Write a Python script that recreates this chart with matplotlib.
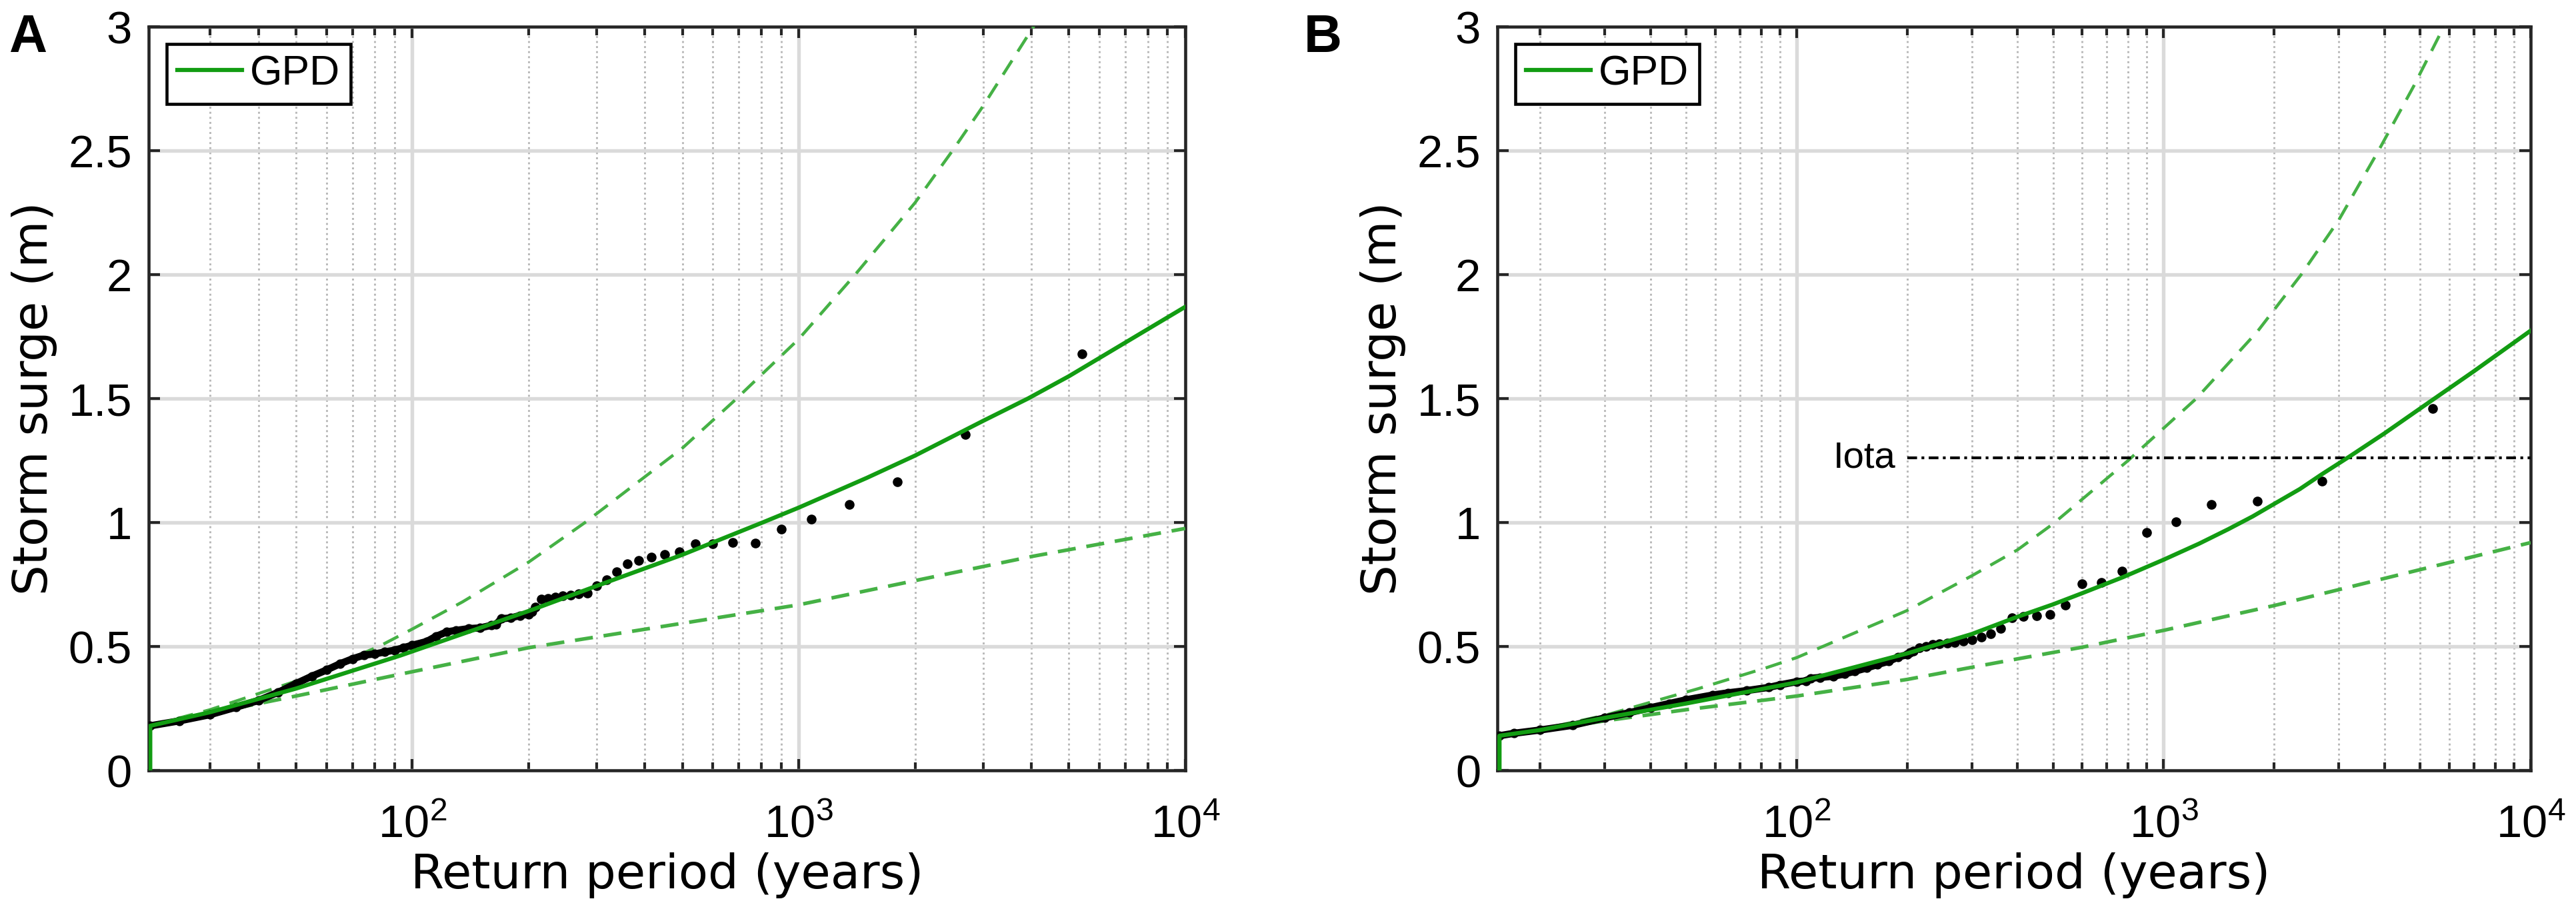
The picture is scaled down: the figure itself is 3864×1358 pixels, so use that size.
#!/usr/bin/env python3
"""
Storm surge return levels: GPD fit with confidence bounds, two sites (A, B).
Output: out.png
"""

import numpy as np
import matplotlib
matplotlib.use('Agg')
import matplotlib.pyplot as plt
import matplotlib.ticker as ticker

plt.rcParams['font.family'] = ['Liberation Sans', 'DejaVu Sans']
plt.rcParams['mathtext.fontset'] = 'custom'
plt.rcParams['mathtext.rm'] = 'Liberation Sans'

# ── data ────────────────────────────────────────────────────────────────────
# Panel A
A_XMIN = 20.8
A_obs_T  = [5400, 2700, 1800, 1350, 1080, 900, 771, 675, 600, 540, 491, 450, 415,
            386, 360, 338, 318, 300, 284, 270, 257, 245, 235, 225, 216, 208]
A_obs_y  = [1.68, 1.355, 1.163, 1.072, 1.013, 0.973, 0.917, 0.920, 0.914, 0.914,
            0.882, 0.871, 0.861, 0.847, 0.834, 0.802, 0.770, 0.745, 0.715, 0.712,
            0.708, 0.705, 0.700, 0.695, 0.690, 0.660]
A_band_T = [204, 200, 190, 180, 170, 165, 160, 150, 140, 130, 123, 115, 109, 100,
            95, 90, 85, 80, 75, 70, 65, 60, 55, 50, 45, 40, 35, 30, 25, 21]
A_band_y = [0.64, 0.63, 0.625, 0.615, 0.612, 0.59, 0.585, 0.575, 0.572, 0.565,
            0.559, 0.54, 0.52, 0.505, 0.495, 0.485, 0.478, 0.47, 0.465, 0.45,
            0.43, 0.405, 0.38, 0.35, 0.315, 0.282, 0.255, 0.225, 0.20, 0.18]
A_gpd_T  = [21, 21, 30, 50, 93, 100, 206, 295, 500, 806, 1000, 1500, 2000, 3000,
            3918, 5000, 10000]
A_gpd_y  = [0, 0.18, 0.235, 0.33, 0.463, 0.48, 0.65, 0.74, 0.87, 1.0, 1.06, 1.18,
            1.27, 1.41, 1.50, 1.59, 1.87]
A_up_T   = [21, 30, 50, 82, 100, 135, 200, 280, 500, 680, 1000, 1400, 2000, 2500,
            3000, 4050, 5000]
A_up_y   = [0.18, 0.245, 0.36, 0.5, 0.57, 0.68, 0.84, 1.0, 1.3, 1.49, 1.74, 2.0,
            2.29, 2.5, 2.68, 3.0, 3.28]
A_lo_T   = [21, 30, 50, 93, 200, 1000, 2020, 4040, 10000]
A_lo_y   = [0.18, 0.23, 0.30, 0.388, 0.495, 0.668, 0.767, 0.864, 0.976]

# Panel B
B_XMIN = 15.3
B_obs_T  = [5400, 2700, 1800, 1350, 1080, 900, 771, 675, 600, 540, 491, 450, 415,
            386, 360, 338, 318, 300, 284, 270, 257, 245, 235, 225, 216, 208]
B_obs_y  = [1.46, 1.167, 1.086, 1.074, 1.003, 0.96, 0.803, 0.758, 0.753, 0.668,
            0.630, 0.624, 0.620, 0.617, 0.573, 0.55, 0.537, 0.527, 0.522, 0.516,
            0.514, 0.511, 0.508, 0.499, 0.494, 0.482]
B_band_T = [204, 200, 189, 178, 166, 155, 144, 135, 126, 116, 109, 106, 100, 90,
            84, 73, 65, 59, 50, 45, 40, 35, 30, 24.5, 20, 17, 15.5]
B_band_y = [0.475, 0.467, 0.457, 0.44, 0.427, 0.413, 0.40, 0.389, 0.38, 0.375,
            0.372, 0.361, 0.358, 0.345, 0.335, 0.322, 0.313, 0.304, 0.285, 0.27,
            0.253, 0.233, 0.212, 0.182, 0.163, 0.15, 0.14]
B_gpd_T  = [15.5, 15.5, 20, 30, 50, 100, 200, 300, 400, 500, 600, 776, 1000, 1250,
            1500, 1750, 2000, 2350, 2700, 3200, 4000, 5000, 7000, 10000]
B_gpd_y  = [0, 0.14, 0.163, 0.212, 0.27, 0.355, 0.472, 0.55, 0.62, 0.67, 0.715,
            0.78, 0.85, 0.915, 0.973, 1.025, 1.075, 1.135, 1.195, 1.265, 1.36,
            1.46, 1.61, 1.774]
B_up_T   = [15.5, 20, 30, 40, 54, 83, 100, 200, 300, 400, 500, 800, 1227, 1800,
            2370, 3000, 3850, 4800, 5800, 7000]
B_up_y   = [0.14, 0.166, 0.222, 0.275, 0.33, 0.415, 0.455, 0.645, 0.785, 0.89,
            0.995, 1.25, 1.5, 1.77, 2.0, 2.22, 2.5, 2.76, 3.0, 3.3]
B_lo_T   = [15.5, 20, 30, 50, 83, 100, 200, 300, 400, 600, 1000, 2000, 5000, 10000]
B_lo_y   = [0.14, 0.16, 0.2, 0.245, 0.285, 0.30, 0.367, 0.416, 0.45, 0.497, 0.565,
            0.665, 0.81, 0.919]

IOTA_LEVEL = 1.26
IOTA_T0    = 200
IOTA_T1    = 10000

Y_TICKS = [0, 0.5, 1, 1.5, 2, 2.5, 3]

# ── styling ──────────────────────────────────────────────────────────────────
GREEN      = '#129c12'
GREEN_DASH = '#45b145'
SPINE      = '#262626'
TICK_FS    = 16.5
LABEL_FS   = 17.3
LABEL_FONT = ['DejaVu Sans']


def style_axes(ax, xmin):
    ax.set_xscale('log')
    ax.set_xlim(xmin, 1e4)
    ax.set_ylim(0, 3)
    ax.set_yticks(Y_TICKS)
    ax.yaxis.set_major_formatter(ticker.FuncFormatter(lambda v, p: f'{v:g}'))
    ax.xaxis.set_major_locator(ticker.LogLocator(base=10, numticks=10))
    ax.xaxis.set_minor_locator(ticker.LogLocator(base=10, subs=np.arange(2, 10),
                                                 numticks=50))
    ax.xaxis.set_minor_formatter(ticker.NullFormatter())

    ax.grid(which='major', color='#dadada', lw=1.3, zorder=0)
    ax.grid(which='minor', axis='x', color='#b9b9b9', lw=0.7, ls=(0, (1, 1.6)),
            zorder=0)
    ax.set_axisbelow(True)

    ax.tick_params(which='both', direction='in', top=True, right=True,
                   color=SPINE, width=1.0, labelsize=TICK_FS, pad=6)
    ax.tick_params(axis='x', which='both', pad=12)
    ax.tick_params(which='major', length=4)
    ax.tick_params(which='minor', length=3)
    for s in ax.spines.values():
        s.set_linewidth(1.1)
        s.set_color(SPINE)

    ax.set_xlabel('Return period (years)', fontsize=LABEL_FS, family=LABEL_FONT)
    ax.xaxis.set_label_coords(0.5, -0.1586)
    ax.xaxis.label.set_verticalalignment('baseline')
    ax.set_ylabel('Storm surge (m)', fontsize=LABEL_FS, labelpad=4,
                  family=LABEL_FONT)


def draw_panel(ax, obs_T, obs_y, band_T, band_y, gpd_T, gpd_y,
               up_T, up_y, lo_T, lo_y):
    ax.plot(up_T, up_y, color=GREEN_DASH, lw=1.1, ls=(0, (5.5, 3.5)), zorder=3)
    ax.plot(lo_T, lo_y, color=GREEN_DASH, lw=1.3, ls=(0, (5, 3)), zorder=3)
    ax.plot(band_T, band_y, color='k', lw=2.6, solid_capstyle='round', zorder=4)
    ax.plot(band_T, band_y, 'o', color='k', ms=2.4, zorder=4)
    ax.plot(obs_T, obs_y, 'o', color='k', ms=2.5, zorder=5)
    ax.plot(gpd_T, gpd_y, color=GREEN, lw=1.5, label='GPD', zorder=6)

    leg = ax.legend(loc='upper left', bbox_to_anchor=(0.0174, 0.977),
                    borderaxespad=0, fontsize=15, handlelength=1.55,
                    handletextpad=0.2, borderpad=0.25, fancybox=False,
                    framealpha=1, edgecolor='k')
    leg.get_frame().set_linewidth(1.1)


# ── figure ───────────────────────────────────────────────────────────────────
fig = plt.figure(figsize=(12.88, 4.5267), dpi=300)
axA = fig.add_axes([0.0577, 0.1487, 0.4024, 0.8218])
axB = fig.add_axes([0.5813, 0.1487, 0.4011, 0.8218])

draw_panel(axA, A_obs_T, A_obs_y, A_band_T, A_band_y, A_gpd_T, A_gpd_y,
           A_up_T, A_up_y, A_lo_T, A_lo_y)
style_axes(axA, A_XMIN)

draw_panel(axB, B_obs_T, B_obs_y, B_band_T, B_band_y, B_gpd_T, B_gpd_y,
           B_up_T, B_up_y, B_lo_T, B_lo_y)
style_axes(axB, B_XMIN)

# Iota level
axB.plot([IOTA_T0, IOTA_T1], [IOTA_LEVEL, IOTA_LEVEL], color='k', lw=1.0,
         ls=(0, (3.5, 1.6, 1.0, 1.6)), zorder=5)
axB.text(IOTA_T0 * 0.93, IOTA_LEVEL, 'Iota', ha='right', va='center',
         fontsize=13.5)

# panel letters
fig.text(0.0034, 0.985, 'A', fontsize=19, fontweight='bold', ha='left', va='top')
fig.text(0.5062, 0.985, 'B', fontsize=19, fontweight='bold', ha='left', va='top')

fig.savefig('out.png', dpi=300)
plt.close(fig)
